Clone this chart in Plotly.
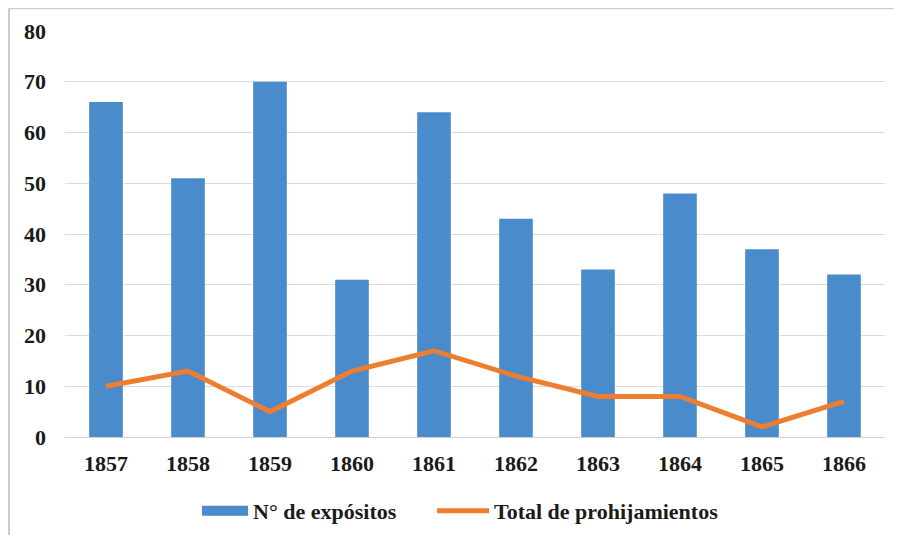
import plotly.graph_objects as go

years = ["1857", "1858", "1859", "1860", "1861", "1862", "1863", "1864", "1865", "1866"]
expositos = [66, 51, 70, 31, 64, 43, 33, 48, 37, 32]
prohijamientos = [10, 13, 5, 13, 17, 12, 8, 8, 2, 7]
y_ticks = [0, 10, 20, 30, 40, 50, 60, 70, 80]

font_family = "Times New Roman, Liberation Serif, serif"
bar_color = "#4a8bcb"
line_color = "#ed7d31"
legend_font = dict(family=font_family, size=22, color="#1a1a1a", weight="bold")

fig = go.Figure()
fig.add_trace(go.Bar(
    x=years, y=expositos, name="N° de expósitos",
    marker=dict(color=bar_color, line=dict(width=0)),
    showlegend=False, legendgroup="exp",
))
# legend entry drawn as a wide swatch for the bar series
fig.add_trace(go.Scatter(
    x=[None], y=[None], name="N° de expósitos", mode="lines",
    line=dict(color=bar_color, width=12), legendgroup="exp", legend="legend",
))
fig.add_trace(go.Scatter(
    x=years, y=prohijamientos, name="Total de prohijamientos",
    mode="lines", line=dict(color=line_color, width=5), legend="legend2",
))

fig.update_layout(
    width=886, height=527,
    margin=dict(l=57, r=9, t=23, b=98),
    paper_bgcolor="white", plot_bgcolor="white",
    bargap=0.59,
    font=dict(family=font_family, size=22, color="#1a1a1a", weight="bold"),
    showlegend=True,
    legend=dict(
        orientation="h", x=0.161, xanchor="left",
        yref="container", y=0.0455, yanchor="middle",
        font=legend_font, itemwidth=46,
    ),
    legend2=dict(
        orientation="h", x=0.4476, xanchor="left",
        yref="container", y=0.0455, yanchor="middle",
        font=legend_font, itemwidth=52,
    ),
    xaxis=dict(
        showgrid=False, showline=True, linecolor="#d0d0d0", linewidth=1,
        ticks="", ticklabelstandoff=7,
        tickfont=dict(family=font_family, size=22, weight="bold"),
    ),
    yaxis=dict(
        range=[0, 80], tickvals=y_ticks, showgrid=True, gridcolor="#dcdcdc",
        gridwidth=1, zeroline=False, showline=False, ticks="",
        ticklabelstandoff=18,
        tickfont=dict(family=font_family, size=22, weight="bold"),
    ),
    shapes=[
        dict(type="line", xref="paper", yref="paper", x0=-0.0683, x1=1.0107,
             y0=1.056, y1=1.056, line=dict(color="#cccccc", width=2)),
        dict(type="line", xref="paper", yref="paper", x0=-0.0683, x1=-0.0683,
             y0=1.056, y1=-0.244, line=dict(color="#cccccc", width=2)),
    ],
)

fig.write_html("out.html")
